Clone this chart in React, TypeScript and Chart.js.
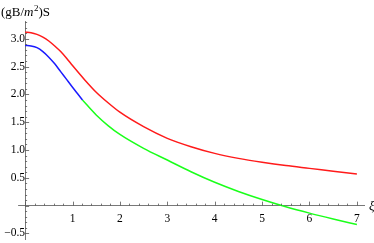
import React, { useEffect, useRef } from "react";
import { Chart, registerables } from "chart.js";

Chart.register(...registerables);

// Data
const redX = [0, 0.125, 0.25, 0.375, 0.5, 0.625, 0.75, 0.875, 1.0, 1.25, 1.5, 1.75, 2.0, 2.5, 3.0, 3.5, 4.0, 4.5, 5.0, 5.5, 6.0, 6.5, 7.0];
const redY = [3.12, 3.11, 3.08, 3.03, 2.96, 2.87, 2.77, 2.65, 2.52, 2.27, 2.04, 1.85, 1.68, 1.42, 1.21, 1.06, 0.94, 0.85, 0.78, 0.72, 0.67, 0.62, 0.57];

const blueX = [0, 0.125, 0.25, 0.375, 0.5, 0.625, 0.75, 0.875, 1.0, 1.1, 1.21];
const blueY = [2.88, 2.87, 2.84, 2.77, 2.67, 2.55, 2.41, 2.27, 2.13, 2.02, 1.9];

const greenX = [1.21, 1.5, 1.75, 2.0, 2.5, 3.0, 3.5, 4.0, 4.5, 5.0, 5.5, 6.0, 6.5, 7.0];
const greenY = [1.9, 1.63, 1.44, 1.28, 1.03, 0.82, 0.61, 0.42, 0.255, 0.11, -0.02, -0.135, -0.24, -0.34];

const xTickLabels = [1, 2, 3, 4, 5, 6, 7];
const yTickLabels = [-0.5, 0.5, 1.0, 1.5, 2.0, 2.5, 3.0];

const toPts = (xs: number[], ys: number[]) => xs.map((x, i) => ({ x, y: ys[i] }));

const AXIS_COLOR = "#555";
const FONT = "'Liberation Serif', 'Times New Roman', serif";
Chart.defaults.font.family = FONT;

const axesExtras = {
  id: "axesExtras",
  afterDraw(chart: any) {
    const ctx = chart.ctx;
    const xs = chart.scales.x;
    const ys = chart.scales.y;
    const x0 = xs.getPixelForValue(0);
    const y0 = ys.getPixelForValue(0);
    ctx.save();
    ctx.strokeStyle = AXIS_COLOR;
    ctx.lineWidth = 0.8;
    // x ticks (major every 1, minor every 0.2)
    for (let i = 0; i <= 35; i++) {
      const v = i * 0.2;
      if (v > xs.max) break;
      const major = i % 5 === 0;
      const px = Math.round(xs.getPixelForValue(v)) + 0.5;
      ctx.beginPath();
      ctx.moveTo(px, y0);
      ctx.lineTo(px, y0 - (major ? 4 : 2));
      ctx.stroke();
    }
    // y ticks (major every 0.5, minor every 0.1)
    for (let i = -6; i <= 33; i++) {
      const v = i * 0.1;
      if (v < ys.min || v > ys.max) continue;
      const major = i % 5 === 0;
      const py = Math.round(ys.getPixelForValue(v)) + 0.5;
      ctx.beginPath();
      ctx.moveTo(x0, py);
      ctx.lineTo(x0 + (major ? 4 : 2), py);
      ctx.stroke();
    }
    // axis titles
    ctx.fillStyle = "#000";
    ctx.textBaseline = "alphabetic";
    ctx.textAlign = "left";
    let tx = 1;
    const ty = 16;
    const parts: [string, string, number][] = [
      ["(gB/", "13px " + FONT, 0],
      ["m", "italic 13px " + FONT, 0],
      ["2", "9px " + FONT, -5],
      [")S", "13px " + FONT, 0],
    ];
    for (const [t, f, dy] of parts) {
      ctx.font = f;
      ctx.fillText(t, tx, ty + dy);
      tx += ctx.measureText(t).width + (t === "m" ? 0.5 : 0);
    }
    ctx.font = "italic 13px " + FONT;
    ctx.fillText("ξ", xs.right + 5, y0 + 4);
    ctx.restore();
  },
};

export default function App() {
  const ref = useRef<HTMLCanvasElement | null>(null);
  useEffect(() => {
    if (!ref.current) return;
    const line = (data: any, color: string) => ({
      data,
      borderColor: color,
      backgroundColor: color,
      borderWidth: 1.5,
      pointRadius: 0,
      showLine: true,
      cubicInterpolationMode: "monotone" as const,
      fill: false,
    });
    const chart = new Chart(ref.current, {
      type: "scatter",
      data: {
        datasets: [
          line(toPts(redX, redY), "#ff1a1a"),
          line(toPts(blueX, blueY), "#1a1aff"),
          line(toPts(greenX, greenY), "#1aff1a"),
        ],
      },
      options: {
        responsive: false,
        animation: false,
        layout: { padding: { left: 18, right: 10, top: 21, bottom: 4 } },
        plugins: { legend: { display: false }, tooltip: { enabled: false } },
        scales: {
          x: {
            type: "linear",
            min: -0.15,
            max: 7.15,
            position: { y: 0 } as any,
            grid: { display: false, drawTicks: false },
            border: { display: true, color: AXIS_COLOR, width: 0.8 },
            afterBuildTicks: (s: any) => {
              s.ticks = xTickLabels.map((v) => ({ value: v }));
            },
            afterFit: (s: any) => {
              s.paddingLeft = 0; s.paddingRight = 0; s.paddingTop = 0; s.paddingBottom = 0;
            },
            ticks: {
              autoSkip: false,
              maxRotation: 0,
              padding: 6,
              color: "#000",
              font: { family: FONT, size: 11.5 },
              callback: (v: any) => String(v),
            },
          },
          y: {
            type: "linear",
            min: -0.6,
            max: 3.32,
            position: { x: 0 } as any,
            grid: { display: false, drawTicks: false },
            border: { display: true, color: AXIS_COLOR, width: 0.8 },
            afterBuildTicks: (s: any) => {
              s.ticks = yTickLabels.map((v) => ({ value: v }));
            },
            afterFit: (s: any) => {
              s.paddingLeft = 0; s.paddingRight = 0; s.paddingTop = 0; s.paddingBottom = 0;
            },
            ticks: {
              autoSkip: false,
              padding: 3,
              color: "#000",
              font: { family: FONT, size: 11.5 },
              callback: (v: any) => Number(v).toFixed(1).replace("-", "\u2212"),
            },
          },
        },
      },
      plugins: [axesExtras],
    });
    return () => chart.destroy();
  }, []);
  return (
    <div style={{ position: "fixed", left: 0, top: 0, width: 374, height: 243, background: "#fff" }}>
      <canvas ref={ref} width={374} height={243} />
    </div>
  );
}
